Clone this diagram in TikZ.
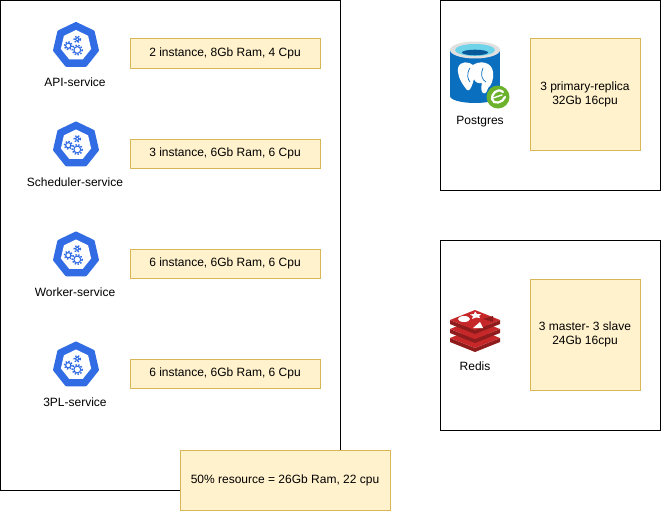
\documentclass[tikz,border=0pt]{standalone}
\usepackage{fontspec}
\setmainfont{Liberation Sans}
\usetikzlibrary{shapes.geometric}
\definecolor{notefill}{HTML}{FFF2CC}
\definecolor{noteline}{HTML}{D6B656}
\definecolor{kubeblue}{HTML}{326CE5}
\definecolor{pgblue}{HTML}{0A6FBF}
\definecolor{pgtop}{HTML}{6FD3EA}
\definecolor{pggreen}{HTML}{6CB22C}
\definecolor{redisred}{HTML}{C6282A}
\definecolor{redisdark}{HTML}{8F1C1C}
\begin{document}
\begin{tikzpicture}[x=1pt,y=-1pt,
    every node/.style = {font=\fontsize{12}{14}\selectfont},
    frame/.style = {
      draw,
      line width = 1pt,
      fill = white
    },
    note/.style = {
      draw = noteline,
      fill = notefill,
      line width = 1pt,
      align = center,
      inner sep = 0pt
    },
    kubeouter/.style = {
      regular polygon,
      regular polygon sides = 7,
      fill = kubeblue,
      draw = kubeblue,
      line width = 3pt,
      line join = round,
      inner sep = 0pt,
      minimum size = 44pt
    },
    kubeinner/.style = {
      regular polygon,
      regular polygon sides = 7,
      fill = white,
      inner sep = 0pt,
      minimum size = 31pt
    },
    gearring/.style = {
      draw = kubeblue,
      line width = 1.1pt
    },
    gearteeth/.style = {
      draw = kubeblue,
      line width = 1.5pt,
      dash pattern = on 1.4pt off 1.6pt
    },
    pics/kubeicon/.style = {
      code = {
        \node[kubeouter] at (0,0) {};
        \node[kubeinner] at (0,0) {};
        \draw[gearring] (-7.7,0.2) circle (2.6);
        \draw[gearteeth] (-7.7,0.2) circle (3.9);
        \draw[gearring] (1.3,-6.2) circle (1.9);
        \draw[gearteeth] (1.3,-6.2) circle (3.1);
        \draw[gearring] (1.3,4.5) circle (3.4);
        \draw[gearteeth] (1.3,4.5) circle (5);
      }
    }
  ]
  \useasboundingbox (0,0) rectangle (661,511);

  \node[frame,anchor=north west,minimum width=340pt,minimum height=490pt] (appbox) at (0,0) {};
  \node[frame,anchor=north west,minimum width=220pt,minimum height=190pt] (pgbox) at (440,0) {};
  \node[frame,anchor=north west,minimum width=220pt,minimum height=190pt] (redisbox) at (440,240) {};

  \pic at (76,45.5) {kubeicon};
  \pic at (76,145) {kubeicon};
  \pic at (76,255) {kubeicon};
  \pic at (76,365) {kubeicon};

  \node (apilabel) at (75,82) {API-service};
  \node (schedlabel) at (75,182) {Scheduler-service};
  \node (workerlabel) at (75,292) {Worker-service};
  \node (tplabel) at (75,402) {3PL-service};

  \node[note,anchor=north west,minimum width=190pt,minimum height=29.5pt] (apinote) at (129.5,38.5) {2 instance, 8Gb Ram, 4 Cpu};
  \node[note,anchor=north west,minimum width=190pt,minimum height=29.5pt] (schednote) at (129.5,138.5) {3 instance, 6Gb Ram, 6 Cpu};
  \node[note,anchor=north west,minimum width=190pt,minimum height=29.5pt] (workernote) at (129.5,248.5) {6 instance, 6Gb Ram, 6 Cpu};
  \node[note,anchor=north west,minimum width=190pt,minimum height=29.5pt] (tpnote) at (129.5,358.5) {6 instance, 6Gb Ram, 6 Cpu};
  \node[note,anchor=north west,minimum width=210pt,minimum height=60pt] (totalnote) at (179.5,450) {50\% resource = 26Gb Ram, 22 cpu};
  \node[note,anchor=north west,minimum width=110pt,minimum height=111.5pt] (pgnote) at (529.5,38.5) {3 primary-replica\\32Gb 16cpu};
  \node[note,anchor=north west,minimum width=110pt,minimum height=111.5pt] (redisnote) at (529.5,278.5) {3 master- 3 slave\\24Gb 16cpu};

  % postgres
  \fill[pgblue] (475,96) ellipse (25 and 7);
  \fill[pgblue] (450,50) rectangle (500,96);
  \fill[black!12] (475,50) ellipse (25 and 8.5);
  \fill[pgtop] (475,50) ellipse (20 and 6);
  \fill[pgblue!80!black] (475,52.5) ellipse (13 and 2.8);
  \fill[white] (458,68) .. controls (460,60) and (470,62) .. (473,65) .. controls (480,60) and (492,62) .. (493,72)
    .. controls (494,80) and (491,86) .. (488,88) .. controls (487,93) and (484,95) .. (482,92)
    .. controls (481,88) and (481,86) .. (482,83) .. controls (478,84) and (475,82) .. (474,79)
    .. controls (472,86) and (470,92) .. (467,90) .. controls (464,86) and (457,78) .. (458,68) -- cycle;
  \draw[pgblue,line width=0.7pt] (470,68) .. controls (466,74) and (468,80) .. (470,82);
  \draw[pgblue,line width=0.7pt] (483,68) .. controls (480,74) and (482,80) .. (486,82);
  \fill[pggreen] (498,97) circle (11.5);
  \draw[white,line width=2.2pt,line cap=round] (503,92) .. controls (497,87) and (491,95) .. (492,99) .. controls (493,105) and (503,103) .. (505,97);
  \draw[white,line width=1.4pt,line cap=round] (493,98) -- (502,95);
  \node (pglabel) at (480,122) {Postgres};

  % redis
  \foreach \layertop in {338,329,320}{
    \fill[redisdark] (450,\layertop) -- (475,\layertop+10) -- (500,\layertop) -- (500,\layertop+4) -- (475,\layertop+14) -- (450,\layertop+4) -- cycle;
    \fill[redisred] (450,\layertop) -- (475,\layertop-10) -- (500,\layertop) -- (475,\layertop+10) -- cycle;
  }
  \fill[white] (464,319) ellipse (6 and 3);
  \fill[white] (475,311.5) -- (477,314) -- (481,314) -- (479,316) -- (480,318) -- (476,317.5) -- (472,319) -- (473,316) -- (470,314.5) -- (474,314) -- cycle;
  \fill[white] (473,328) -- (480,322) -- (483,328) -- cycle;
  \fill[redisdark] (483,319) -- (493,316) -- (493,322) -- cycle;
  \node (redislabel) at (475,366) {Redis};
\end{tikzpicture}
\end{document}
